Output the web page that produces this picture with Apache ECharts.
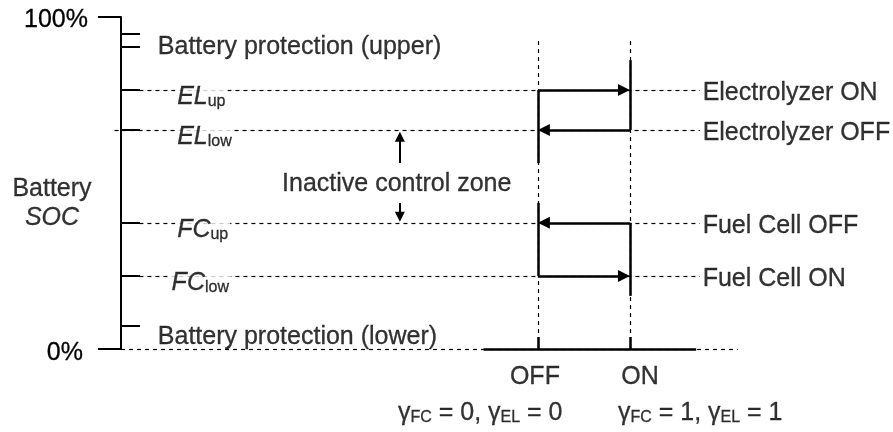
<!DOCTYPE html>
<html>
<head>
<meta charset="utf-8">
<script src="https://cdn.jsdelivr.net/npm/echarts@6/dist/echarts.min.js"></script>
<style>
    html, body { margin: 0; width: 100%; height: 100%; background: #fff; }
    #main { width: 893px; height: 432px; }
</style>
</head>
<body>
<div id="main"></div>
<script>
    // SOC levels in %
    var socEnds = [0, 100];
    var protUpper = [95, 91];
    var protLower = [7];
    var elLevels = [78, 66];          // EL_up, EL_low
    var fcLevels = [38, 22];          // FC_up, FC_low
    var levelNames = ['EL', 'EL', 'FC', 'FC'];
    var levelSubs = ['up', 'low', 'up', 'low'];
    var actionNames = ['Electrolyzer ON', 'Electrolyzer OFF', 'Fuel Cell OFF', 'Fuel Cell ON'];
    // switching states on the x axis
    var states = [0, 1];
    var stateNames = ['OFF', 'ON'];
    var gammaValues = [0, 1];

    var FONT = '"Liberation Sans", Arial, sans-serif';
    var INK = '#000';
    var FS = 25;
    var pxX = 693 / 7.53;   // px per state unit
    var pxY = 332 / 100;    // px per SOC %

    var levels = elLevels.concat(fcLevels);

    // dashed guides
    var dashed = levels.map(function (l, i) {
        return { coords: [[i === 1 ? -4.6 : -4.33, l], [1.76, l]] };
    });
    dashed.push({ coords: [[-4.53, 0], [2.17, 0]] });
    states.forEach(function (s) {
        dashed.push({ coords: [[s, 0], [s, 93]] });
    });

    // solid parts of the hysteresis loops
    var solid = [
        { coords: [[states[1], 87], [states[1], elLevels[1]]] },
        { coords: [[states[0], elLevels[0]], [states[0], 56]] },
        { coords: [[states[0], 44], [states[0], fcLevels[1]]] },
        { coords: [[states[1], fcLevels[0]], [states[1], 16]] },
        { coords: [[-0.59, 0], [1.72, 0]] }
    ];

    var head = 12, sh = head / 2 / pxX;
    var arrows = [
        { coords: [[states[0], elLevels[0]], [states[1] - sh, elLevels[0]]] },
        { coords: [[states[1], elLevels[1]], [states[0] + sh, elLevels[1]]] },
        { coords: [[states[1], fcLevels[0]], [states[0] + sh, fcLevels[0]]] },
        { coords: [[states[0], fcLevels[1]], [states[1] - sh, fcLevels[1]]] }
    ];
    var smallHead = 10, ssh = smallHead / 2 / pxY;
    var smallArrows = [
        { coords: [[-1.5, 56], [-1.5, elLevels[1] - 0.6 - ssh]] },
        { coords: [[-1.5, 44], [-1.5, fcLevels[0] + 0.3 + ssh]] }
    ];

    function ts(extra) {
        return Object.assign({ fontSize: FS, fontFamily: FONT, color: INK, textBorderColor: INK, textBorderWidth: 0.3 }, extra || {});
    }
    var rich = {
        i: ts({ fontStyle: 'italic', lineHeight: 27, verticalAlign: 'bottom' }),
        s: ts({ fontSize: 16, lineHeight: 12, verticalAlign: 'bottom' }),
        g: ts({ lineHeight: 27, verticalAlign: 'bottom' }),
        gs: ts({ fontSize: 16, lineHeight: 12, verticalAlign: 'bottom' }),
        gt: ts({ lineHeight: 27, verticalAlign: 'bottom' })
    };

    var labels = [];
    function addLabel(x, y, text, opt) {
        labels.push({
            value: [x, y],
            label: Object.assign(ts({
                show: true, position: 'inside', align: 'left', verticalAlign: 'middle',
                formatter: text, rich: rich
            }), opt || {})
        });
    }

    addLabel(-4.13, protUpper[1], 'Battery protection (upper)');
    addLabel(-4.13, protLower[0], 'Battery protection (lower)', { offset: [0, 11] });
    levels.forEach(function (l, i) {
        addLabel(i === 3 ? -3.98 : -3.92, l, '{i|' + levelNames[i] + '}{s|' + levelSubs[i] + '}',
            { offset: [-2, 6], backgroundColor: '#fff', padding: [0, 2] });
        addLabel(1.79, l, actionNames[i], { offset: [0, 3] });
    });
    addLabel(-2.78, (elLevels[1] + fcLevels[0]) / 2, 'Inactive control zone', { offset: [0, 8] });
    addLabel(-5.28, 44, 'Battery\n{i|SOC}', { align: 'center', lineHeight: 28 });
    states.forEach(function (s, i) {
        addLabel(s, 0, stateNames[i], { align: 'center', offset: [i === 0 ? -3 : 10, 28] });
        var g = gammaValues[i];
        addLabel(s, 0, '{g|γ}{gs|FC}{gt| = ' + g + ', }{g|γ}{gs|EL}{gt| = ' + g + '}',
            { offset: [i === 0 ? -140 : -12, 63] });
    });

    var chart = echarts.init(document.getElementById('main'));
    chart.setOption({
        animation: false,
        grid: { left: 121, top: 17, width: 693, height: 332 },
        xAxis: {
            type: 'value', min: -4.53, max: 3,
            axisLine: { show: false },
            axisTick: { show: true, inside: true, length: 12, customValues: states, lineStyle: { color: INK, width: 2.5 } },
            axisLabel: { show: false },
            splitLine: { show: false }
        },
        yAxis: [{
            type: 'value', min: 0, max: 100, position: 'left',
            axisLine: { show: true, onZero: false, lineStyle: { color: INK, width: 2 } },
            axisTick: { show: true, inside: true, length: 19, customValues: protUpper.concat(levels, protLower), lineStyle: { color: INK, width: 2 } },
            axisLabel: { show: false },
            splitLine: { show: false }
        }, {
            type: 'value', min: 0, max: 100, position: 'left',
            axisLine: { show: false, onZero: false },
            axisTick: { show: true, inside: false, length: 23, customValues: socEnds, lineStyle: { color: INK, width: 2 } },
            axisLabel: {
                show: true, customValues: socEnds, margin: 33,
                formatter: function (v) { return v === 100 ? '{a|100%}' : '{b|0%}'; },
                rich: {
                    a: ts({ padding: [6, 0, 0, 0] }),
                    b: ts({ padding: [8, 5, 0, 0] })
                }
            },
            splitLine: { show: false }
        }],
        series: [{
            type: 'lines', coordinateSystem: 'cartesian2d', clip: false, silent: true,
            lineStyle: { color: INK, width: 1.2, type: [4, 4], opacity: 1 },
            data: dashed
        }, {
            type: 'lines', coordinateSystem: 'cartesian2d', clip: false, silent: true,
            lineStyle: { color: INK, width: 2.5, opacity: 1 },
            data: solid
        }, {
            type: 'lines', coordinateSystem: 'cartesian2d', clip: false, silent: true,
            symbol: ['none', 'triangle'], symbolSize: head,
            lineStyle: { color: INK, width: 2.5, opacity: 1 },
            data: arrows
        }, {
            type: 'lines', coordinateSystem: 'cartesian2d', clip: false, silent: true,
            symbol: ['none', 'triangle'], symbolSize: smallHead,
            lineStyle: { color: INK, width: 2, opacity: 1 },
            data: smallArrows
        }, {
            type: 'scatter', symbolSize: 1, clip: false, silent: true, z: 10,
            itemStyle: { color: 'rgba(0,0,0,0)' },
            data: labels
        }]
    });
</script>
</body>
</html>
